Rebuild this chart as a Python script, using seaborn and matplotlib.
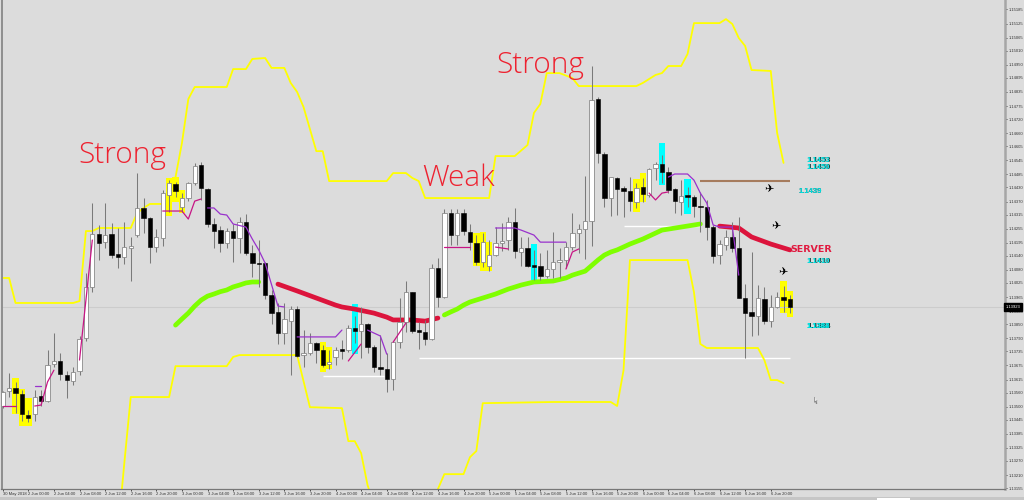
import matplotlib
matplotlib.use("Agg")
import matplotlib.pyplot as plt
from matplotlib.patches import Rectangle
import numpy as np
import pandas as pd
import seaborn as sns

NaN = float("nan")
POINT = 1e-5

# hourly candles, prices in points (1e-5)
open_pts = [
    113503, 113567, 113579, 113554, 113465, 113469, 113546, 113524, 113681, 113694,
    113634, 113609, 113651, 113791, 114008, 114232, 114198, 114232, 114148, 114135,
    114173, 114228, 114343, 114300, 114177, 114215, 114398, 114444, 114347, 114385,
    114449, 114525, 114423, 114275, 114249, 114194, 114245, 114215, 114283, 114152,
    114109, 114109, 113974, 113902, 113812, 113864, 113914, 113719, 113727, 113770,
    113740, 113681, 113711, 113744, 113740, 113834, 113821, 113851, 113753, 113668,
    113660, 113617, 113774, 113859, 113987, 113825, 113817, 113787, 114088, 113965,
    114321, 114228, 114321, 114241, 114194, 114114, 114097, 114143, 114194, 114207,
    114283, 114156, 114173, 114101, 114097, 114054, 114084, 114114, 114122, 114177,
    114237, 114254, 114288, 114805, 114572, 114385, 114470, 114427, 114415, 114368,
    114432, 114398, 114512, 114529, 114495, 114423, 114368, 114398, 114389, 114351,
    114347, 114262, 114143, 114186, 114220, 114173, 113961, 113902, 113885, 113957,
    113864, 113923, 113965, 113957,
]
high_pts = [
    113567, 113642, 113605, 113571, 113486, 113571, 113571, 113740, 113812, 113727,
    113651, 113668, 113800, 114067, 114364, 114271, 114364, 114279, 114258, 114283,
    114220, 114491, 114385, 114304, 114254, 114419, 114461, 114453, 114406, 114453,
    114534, 114538, 114427, 114300, 114266, 114258, 114275, 114304, 114317, 114186,
    114207, 114114, 113995, 113940, 113940, 113927, 113927, 113825, 113812, 113774,
    113761, 113740, 113753, 113783, 113846, 113885, 113923, 113855, 113761, 113804,
    113727, 113774, 113961, 114033, 113987, 113859, 113868, 114105, 114131, 114338,
    114338, 114338, 114338, 114275, 114228, 114237, 114207, 114262, 114279, 114304,
    114343, 114220, 114220, 114165, 114152, 114165, 114241, 114173, 114198, 114321,
    114275, 114478, 114945, 114813, 114580, 114474, 114474, 114436, 114474, 114449,
    114470, 114512, 114538, 114568, 114517, 114427, 114461, 114432, 114398, 114411,
    114377, 114271, 114207, 114249, 114283, 114304, 114020, 114156, 114016, 114008,
    113974, 113987, 114012, 113974,
]
low_pts = [
    113494, 113541, 113473, 113440, 113435, 113440, 113503, 113520, 113668, 113613,
    113537, 113592, 113634, 113779, 113987, 114122, 114173, 114131, 114088, 114105,
    114033, 114220, 114237, 114109, 114156, 114181, 114326, 114389, 114326, 114372,
    114440, 114377, 114262, 114173, 114156, 114173, 114114, 114152, 114143, 114050,
    114008, 113957, 113851, 113766, 113766, 113634, 113711, 113668, 113719, 113685,
    113668, 113660, 113677, 113702, 113732, 113770, 113706, 113727, 113647, 113634,
    113562, 113571, 113749, 113817, 113812, 113744, 113761, 113783, 113923, 113961,
    114186, 114186, 114228, 114165, 114101, 114092, 114075, 114139, 114160, 114165,
    114131, 114097, 114092, 114037, 114037, 114046, 114046, 114046, 114088, 114165,
    114152, 114126, 114181, 114534, 114347, 114309, 114313, 114304, 114330, 114343,
    114368, 114389, 114461, 114449, 114406, 114321, 114313, 114347, 114304, 114241,
    114207, 114109, 114105, 114165, 114156, 113961, 113706, 113800, 113804, 113851,
    113838, 113919, 113902, 113897,
]
close_pts = [
    113563, 113579, 113558, 113469, 113452, 113541, 113524, 113677, 113694, 113638,
    113613, 113647, 113787, 114008, 114232, 114194, 114228, 114143, 114135, 114177,
    114181, 114343, 114300, 114177, 114220, 114406, 114449, 114415, 114385, 114449,
    114521, 114427, 114275, 114245, 114194, 114245, 114215, 114283, 114152, 114109,
    114105, 113974, 113897, 113812, 113872, 113914, 113715, 113727, 113770, 113740,
    113677, 113689, 113740, 113736, 113834, 113821, 113851, 113753, 113668, 113660,
    113617, 113774, 113859, 113987, 113821, 113817, 113787, 114088, 113965, 114321,
    114228, 114321, 114245, 114198, 114114, 114198, 114143, 114194, 114203, 114283,
    114160, 114173, 114097, 114092, 114054, 114084, 114114, 114122, 114177, 114237,
    114254, 114288, 114801, 114576, 114385, 114474, 114423, 114415, 114372, 114427,
    114402, 114508, 114529, 114495, 114419, 114372, 114394, 114389, 114351, 114347,
    114262, 114139, 114190, 114220, 114173, 113961, 113897, 113885, 113961, 113864,
    113923, 113965, 113952, 113923,
]

# channel lines
upper_idx = [0, 1, 2, 11, 12, 13, 14, 15, 20, 21, 22, 23, 26, 27, 28, 29, 30, 35, 36, 38, 39, 41,
             42, 44, 45, 46, 47, 49, 50, 51, 60, 61, 63, 64, 65, 66, 76, 77, 80, 82, 83, 84, 85,
             87, 89, 90, 99, 100, 102, 103, 104, 106, 107, 108, 112, 113, 114, 115, 116, 117,
             120, 121, 122]
upper_pts = [114046, 114046, 113940, 113940, 113948, 114245, 114245, 114258, 114258, 114321,
             114343, 114360, 114360, 114474, 114618, 114805, 114856, 114856, 114932, 114932,
             114975, 114979, 114937, 114937, 114873, 114835, 114771, 114584, 114584, 114457,
             114457, 114491, 114491, 114470, 114457, 114385, 114385, 114563, 114563, 114610,
             114746, 114784, 114915, 114915, 114894, 114860, 114860, 114873, 114907, 114915,
             114945, 114945, 114996, 115127, 115127, 115144, 115123, 115064, 115030, 114928,
             114924, 114661, 114534]
lower_idx = [18, 19, 20, 26, 27, 35, 36, 37, 46, 48, 53, 54, 55, 56, 57, 58, 67, 68, 69, 72, 73,
             74, 75, 86, 95, 96, 97, 98, 107, 108, 109, 110, 118, 119, 120, 121, 122]
lower_pts = [112968, 113261, 113541, 113541, 113672, 113672, 113711, 113719, 113719, 113498,
             113494, 113354, 113354, 113303, 113168, 113083, 113083, 113151, 113214, 113214,
             113286, 113312, 113515, 113520, 113520, 113503, 113655, 114122, 114122, 113986,
             113766, 113749, 113749, 113698, 113613, 113613, 113600]

# moving average, NaN breaks the run
green_idx = [27, 28, 29, 30, 31, 32, 33, 34, 35, 36, 37, 38, 39, 40, NaN,
             69, 70, 71, 72, 73, 75, 77, 79, 81, 83, 86, 88, 89, 91, 93, 94, 95, 96, 98, 100, 103,
             106, 109]
green_pts = [113846, 113872, 113897, 113927, 113952, 113969, 113978, 113988, 113995, 114008,
             114016, 114025, 114029, 114029, NaN,
             113889, 113902, 113914, 113931, 113944, 113961, 113978, 113999, 114016, 114029,
             114033, 114046, 114058, 114075, 114122, 114143, 114156, 114165, 114190, 114211,
             114249, 114262, 114275]
red_idx = [43, 46, 49, 52, 53, 55, 58, 60, 61, 64, 66, 68, NaN, 112, 115, 117, 120, 123]
red_pts = [114020, 113991, 113961, 113931, 113923, 113914, 113897, 113880, 113868, 113868,
           113863, 113876, NaN, 114266, 114258, 114220, 114190, 114165]

magenta_idx = [0, 2, NaN, 5, 6, 7, 8, NaN, 12, 13, 14, NaN, 25, 28, 29, 30, 31, NaN, 54, 56, NaN,
               61, 63, NaN, 69, 73, NaN, 77, 79, NaN, 88, 89, 90, NaN, 101, 102, 103, 104]
magenta_pts = [113503, 113503, NaN, 113503, 113507, 113605, 113655, NaN, 113698, 113952, 114207,
               NaN, 114330, 114330, 114296, 114372, 114381, NaN, 113694, 113766, NaN,
               113774, 113855, NaN, 114177, 114177, NaN, 114177, 114169, NaN,
               114084, 114156, 114169, NaN, 114406, 114377, 114406, 114411]
purple_idx = [5, 6, NaN, 32, 33, 34, 35, 36, 38, 39, 40, 41, 43, 44, NaN, 46, 52, 53, NaN,
              57, 59, 60, NaN, 77, 78, 80, 81, 83, 84, 88, NaN,
              104, 105, 107, 108, 109, 110, 111, 112, 114, 115]
purple_pts = [113587, 113587, NaN, 114343, 114343, 114317, 114313, 114275, 114262, 114211, 114165,
              114109, 113927, 113923, NaN, 113796, 113796, 113825, NaN,
              113825, 113800, 113723, NaN, 114258, 114258, 114258, 114249, 114228, 114198, 114198,
              NaN, 114474, 114487, 114487, 114461, 114406, 114364, 114271, 114262, 114262, 114058]

# highlighted candles
yellow_idx = [2, 3, 4, 26, 27, 28, 50, 51, 74, 75, 76, 99, 100, 122, 123]
yellow_top = [113621, 113575, 113537, 114470, 114474, 114419, 113774, 113753, 114237, 114241,
              114198, 114466, 114491, 114033, 113991]
yellow_bot = [113469, 113418, 113418, 114309, 114368, 114321, 113647, 113660, 114097, 114075,
              114075, 114326, 114368, 113897, 113880]
cyan_idx = [55, 83, 103, 107]
cyan_top = [113935, 114190, 114618, 114466]
cyan_bot = [113723, 114037, 114440, 114317]

# horizontal levels
white_start = [50, 65, 97]
white_end = [59.5, 123, 109]
white_level = [113630, 113706, 114266]
brown_start = [109]
brown_end = [123]
brown_level = [114457]
last_price = 113923

plane_idx = [119.7, 120.8, 121.9]
plane_pts = [114423, 114266, 114071]

note_labels = ["Strong", "Weak", "Strong"]
note_idx = [11.8, 65.5, 77.2]
note_pts = [114534, 114436, 114915]

level_labels = ["1.1453", "1.1450", "1.1439", "1.1410", "1.1384", "1.1382"]
level_idx = [127.4, 127.4, 126.1, 127.4, 127.4, 127.4]
level_pts = [114546, 114513, 114411, 114114, 113842, 113842]

price_ticks = [1.15185, 1.15125, 1.15065, 1.15010, 1.14950, 1.14895, 1.14835, 1.14775, 1.14720,
               1.14660, 1.14605, 1.14545, 1.14485, 1.14430, 1.14370, 1.14315, 1.14255, 1.14195,
               1.14140, 1.14080, 1.14025, 1.13965, 1.13905, 1.13850, 1.13790, 1.13735, 1.13675,
               1.13615, 1.13560, 1.13500, 1.13445, 1.13385, 1.13325, 1.13270, 1.13210, 1.13155]
time_labels = ["30 May 2018", "2 Jun 00:00", "2 Jun 04:00", "2 Jun 08:00", "2 Jun 12:00",
               "2 Jun 16:00", "2 Jun 20:00", "3 Jun 00:00", "3 Jun 04:00", "3 Jun 08:00",
               "3 Jun 12:00", "3 Jun 16:00", "3 Jun 20:00", "4 Jun 00:00", "4 Jun 04:00",
               "4 Jun 08:00", "4 Jun 12:00", "4 Jun 16:00", "4 Jun 20:00", "5 Jun 00:00",
               "5 Jun 04:00", "5 Jun 08:00", "5 Jun 12:00", "5 Jun 16:00", "5 Jun 20:00",
               "6 Jun 00:00", "6 Jun 04:00", "6 Jun 08:00", "6 Jun 12:00", "6 Jun 16:00",
               "6 Jun 20:00"]
time_ticks = list(range(0, 121, 4))


def to_price(values):
    return np.asarray(values, dtype=float) * POINT


def draw_line(ax, idx, pts, color, width, zorder):
    """Line through the picked vertices; a NaN starts a new run."""
    df = pd.DataFrame({"idx": idx, "price": to_price(pts)})
    df["run"] = df["idx"].isna().cumsum()
    sns.lineplot(
        data=df.dropna(),
        x="idx",
        y="price",
        units="run",
        estimator=None,
        sort=False,
        color=color,
        linewidth=width,
        solid_capstyle="round",
        solid_joinstyle="round",
        legend=False,
        ax=ax,
        zorder=zorder,
    )


def draw_candles(ax, df):
    up = df["close"] >= df["open"]
    ax.vlines(df["idx"], df["low"], df["high"], color="#7a7a7a", linewidth=0.75, zorder=4)
    body_bot = df[["open", "close"]].min(axis=1)
    body_h = (df["close"] - df["open"]).abs().clip(lower=0.00006)
    ax.bar(df["idx"][up], body_h[up], bottom=body_bot[up], width=0.68,
           color="white", edgecolor="#8a8a8a", linewidth=0.6, zorder=5)
    ax.bar(df["idx"][~up], body_h[~up], bottom=body_bot[~up], width=0.68,
           color="black", edgecolor="black", linewidth=0.4, zorder=5)


sns.set_theme(style="white")
plt.rcParams["font.family"] = ["Liberation Sans", "DejaVu Sans"]

BG = "#dcdcdc"
fig = plt.figure(figsize=(10.24, 5), dpi=100, facecolor=BG)
ax = fig.add_axes([1.5 / 1024, 11 / 500, 1003.5 / 1024, 489 / 500], facecolor=BG)

candles = pd.DataFrame({
    "idx": np.arange(len(open_pts)),
    "open": to_price(open_pts),
    "high": to_price(high_pts),
    "low": to_price(low_pts),
    "close": to_price(close_pts),
})

ax.bar(yellow_idx, to_price(yellow_top) - to_price(yellow_bot), bottom=to_price(yellow_bot),
       width=1.0, color="#ffff00", linewidth=0, zorder=1)
ax.bar(cyan_idx, to_price(cyan_top) - to_price(cyan_bot), bottom=to_price(cyan_bot),
       width=1.0, color="#00ffff", linewidth=0, zorder=1)

ax.axhline(last_price * POINT, color="#cccccc", linewidth=0.8, zorder=1)
ax.hlines(to_price(white_level), white_start, white_end, color="white", linewidth=1.0, zorder=2)
ax.hlines(to_price(brown_level), brown_start, brown_end, color="#a67c5e", linewidth=1.5, zorder=2)

draw_line(ax, upper_idx, upper_pts, "#ffff00", 1.3, 2)
draw_line(ax, lower_idx, lower_pts, "#ffff00", 1.3, 2)
draw_line(ax, green_idx, green_pts, "#7fff00", 3.4, 3)
draw_line(ax, red_idx, red_pts, "#dc143c", 3.4, 3)

draw_candles(ax, candles)

draw_line(ax, magenta_idx, magenta_pts, "#c71585", 0.9, 6)
draw_line(ax, purple_idx, purple_pts, "#9932cc", 0.9, 6)

for label, i, p in zip(note_labels, note_idx, note_pts):
    ax.text(i, p * POINT, label, color="#ee2230", fontsize=21.5, family="Open Sans",
            fontweight="light", ha="left", va="baseline", zorder=7)

for label, i, p in zip(level_labels, level_idx, level_pts):
    ax.text(i + 0.12, p * POINT, label, color="#123c3c", fontsize=5.5, fontweight="bold",
            ha="center", va="center", zorder=7)
    ax.text(i, p * POINT, label, color="#00e5e5", fontsize=5.5, fontweight="bold",
            ha="center", va="center", zorder=8)

for i, p in zip(plane_idx, plane_pts):
    ax.text(i, p * POINT, "\u2708", color="black", fontsize=8, family="DejaVu Sans",
            ha="center", va="center", zorder=7)

ax.text(123, 114165 * POINT, "SERVER", color="#e0193f", fontsize=6.8, fontweight="bold",
        family="DejaVu Sans", ha="left", va="center", zorder=7)

# mouse pointer left in the screenshot
ax.scatter([126.8], [1.13528], s=26, facecolor="#e8e8e8", edgecolor="#808080", linewidth=0.5,
           marker=[(0, 1), (0, -0.5), (0.28, -0.2), (0.5, -0.9), (0.7, -0.8), (0.5, -0.1), (0.8, -0.1)],
           zorder=7)

ax.set_xlim(-0.19, 156.6)
ax.set_ylim(1.13151, 1.15225)
ax.set_xlabel("")
ax.set_ylabel("")
ax.set_xticks(time_ticks)
ax.set_xticklabels(time_labels, ha="left")
ax.set_yticks(price_ticks)
ax.set_yticklabels([f"{t:.5f}" for t in price_ticks])
ax.yaxis.tick_right()
ax.tick_params(axis="y", length=1.5, width=0.6, pad=1, labelsize=3.0, colors="#333333", right=True)
ax.tick_params(axis="x", length=1.5, width=0.6, pad=0.8, labelsize=3.0, colors="#333333", bottom=True)

sns.despine(ax=ax, top=True, right=False, left=False, bottom=False)
ax.spines["left"].set(color="#8e8e8e", linewidth=1.4)
ax.spines["right"].set(color="#a6a6a6", linewidth=1.8)
ax.spines["bottom"].set(color="#777777", linewidth=0.9)

ax.text(1.001, last_price * POINT, f"{last_price * POINT:.5f}", color="white", fontsize=3.0,
        transform=ax.get_yaxis_transform(), ha="left", va="center", zorder=9, clip_on=False,
        bbox=dict(facecolor="black", edgecolor="black", pad=1.2))

fig.patches.append(Rectangle((0, 0), 1, 3 / 500, transform=fig.transFigure, facecolor="#c6c6c6",
                             edgecolor="none"))
fig.patches.append(Rectangle((877 / 1024, 0), 33 / 1024, 2 / 500, transform=fig.transFigure,
                             facecolor="white", edgecolor="none"))

fig.savefig("out.png", dpi=100, facecolor=BG)
